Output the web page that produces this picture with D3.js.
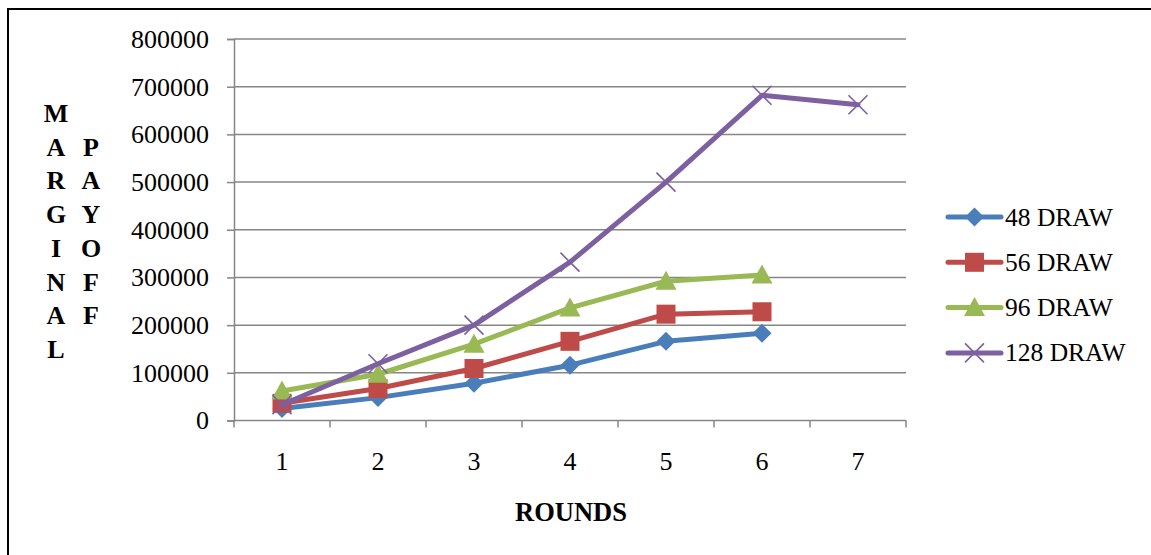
<!DOCTYPE html>
<html>
<head>
<meta charset="utf-8">
<script src="https://cdn.jsdelivr.net/npm/d3@7"></script>
<style>
  html, body { margin: 0; padding: 0; background: #fff; }
  svg text { font-family: "Liberation Serif", "Times New Roman", serif; fill: #000; }
</style>
</head>
<body>
<svg id="chart" width="1151" height="555"></svg>
<script>
// Marginal payoff per round for each draw size
const rounds = ["1", "2", "3", "4", "5", "6", "7"];
const draw48 = [25000, 48000, 78000, 116000, 166000, 183000];
const draw56 = [36000, 67000, 109000, 166000, 223000, 228000];
const draw96 = [62000, 97000, 160000, 236000, 292000, 305000];
const draw128 = [33000, 119000, 200000, 332000, 500000, 682000, 662000];
const yTicks = [0, 100000, 200000, 300000, 400000, 500000, 600000, 700000, 800000];
const seriesNames = ["48 DRAW", "56 DRAW", "96 DRAW", "128 DRAW"];
const yTitleLeft = "MARGINAL";
const yTitleRight = "PAYOFF";
const xTitle = "ROUNDS";

const series = [
  { name: seriesNames[0], values: draw48, color: "#4A7EBB", marker: "diamond" },
  { name: seriesNames[1], values: draw56, color: "#BE4B48", marker: "square" },
  { name: seriesNames[2], values: draw96, color: "#98B954", marker: "triangle" },
  { name: seriesNames[3], values: draw128, color: "#7D60A0", marker: "cross" }
];

const svg = d3.select("#chart");

// outer frame (its right and bottom edges fall outside the view)
svg.append("rect")
  .attr("x", 8).attr("y", 9)
  .attr("width", 1200).attr("height", 600)
  .attr("fill", "none").attr("stroke", "#000").attr("stroke-width", 2);

const plot = { left: 234, right: 906, top: 39, bottom: 420.5 };

const x = d3.scaleBand().domain(rounds).range([plot.left, plot.right]);
const y = d3.scaleLinear().domain([0, 800000]).range([plot.bottom, plot.top]);

const gridColor = "#868686";

// horizontal gridlines
svg.append("g").selectAll("line").data(yTicks.filter(t => t > 0)).join("line")
  .attr("x1", plot.left).attr("x2", plot.right)
  .attr("y1", d => y(d)).attr("y2", d => y(d))
  .attr("stroke", gridColor).attr("stroke-width", 1.5);

// y axis
const yAxis = svg.append("g")
  .attr("transform", `translate(${plot.left},0)`)
  .call(d3.axisLeft(y).tickValues(yTicks).tickFormat(d3.format("d")).tickSize(7).tickPadding(18));
yAxis.select(".domain").attr("stroke", gridColor).attr("stroke-width", 1.5);
yAxis.selectAll(".tick line").attr("stroke", gridColor).attr("stroke-width", 1.5);
yAxis.selectAll(".tick text")
  .style("font-family", "'Liberation Serif', serif").style("font-size", "26px").attr("fill", "#000");

// x axis with ticks at band boundaries
const xAxisG = svg.append("g").attr("transform", `translate(0,${plot.bottom})`);
xAxisG.append("line")
  .attr("x1", plot.left).attr("x2", plot.right)
  .attr("stroke", gridColor).attr("stroke-width", 1.5);
const boundaries = rounds.map(r => x(r)).concat([x(rounds[rounds.length - 1]) + x.bandwidth()]);
xAxisG.selectAll("line.tk").data(boundaries).join("line").attr("class", "tk")
  .attr("x1", d => d).attr("x2", d => d).attr("y1", 0).attr("y2", 7)
  .attr("stroke", gridColor).attr("stroke-width", 1.5);
xAxisG.selectAll("text").data(rounds).join("text")
  .attr("x", d => x(d) + x.bandwidth() / 2)
  .attr("y", 49)
  .attr("text-anchor", "middle")
  .style("font-size", "26px")
  .text(d => d);

// axis titles
svg.append("text")
  .attr("x", 571).attr("y", 521)
  .attr("text-anchor", "middle")
  .style("font-size", "26.5px").style("font-weight", "bold")
  .text(xTitle);

const rowH = 33.7;
yTitleLeft.split("").forEach((ch, i) => {
  svg.append("text")
    .attr("x", 56).attr("y", 122 + i * rowH)
    .attr("text-anchor", "middle")
    .style("font-size", "26px").style("font-weight", "bold")
    .text(ch);
});
yTitleRight.split("").forEach((ch, i) => {
  svg.append("text")
    .attr("x", 91).attr("y", 122 + (i + 1) * rowH)
    .attr("text-anchor", "middle")
    .style("font-size", "26px").style("font-weight", "bold")
    .text(ch);
});

// marker shapes
const markerSize = 9.5;
function drawMarker(g, type, color, cx, cy) {
  const s = markerSize;
  if (type === "diamond") {
    g.append("path")
      .attr("d", `M${cx},${cy - s} L${cx + s},${cy} L${cx},${cy + s} L${cx - s},${cy} Z`)
      .attr("fill", color);
  } else if (type === "square") {
    g.append("rect")
      .attr("x", cx - s).attr("y", cy - s).attr("width", 2 * s).attr("height", 2 * s)
      .attr("fill", color);
  } else if (type === "triangle") {
    g.append("path")
      .attr("d", `M${cx},${cy - s - 1} L${cx + s + 1},${cy + s - 1} L${cx - s - 1},${cy + s - 1} Z`)
      .attr("fill", color);
  } else {
    g.append("path")
      .attr("d", `M${cx - s},${cy - s} L${cx + s},${cy + s} M${cx - s},${cy + s} L${cx + s},${cy - s}`)
      .attr("stroke", color).attr("stroke-width", 1.6).attr("fill", "none");
  }
}

const line = d3.line()
  .x((d, i) => x(rounds[i]) + x.bandwidth() / 2)
  .y(d => y(d));

series.forEach(s => {
  const g = svg.append("g");
  g.append("path")
    .datum(s.values)
    .attr("d", line)
    .attr("fill", "none")
    .attr("stroke", s.color)
    .attr("stroke-width", 5)
    .attr("stroke-linejoin", "round")
    .attr("stroke-linecap", "round");
  s.values.forEach((v, i) => {
    drawMarker(g, s.marker, s.color, x(rounds[i]) + x.bandwidth() / 2, y(v));
  });
});

// legend
const legend = svg.append("g");
series.forEach((s, i) => {
  const cy = 217 + i * 45.3;
  const g = legend.append("g");
  g.append("line")
    .attr("x1", 948).attr("x2", 1001).attr("y1", cy).attr("y2", cy)
    .attr("stroke", s.color).attr("stroke-width", 5).attr("stroke-linecap", "round");
  drawMarker(g, s.marker, s.color, 974.5, cy);
  g.append("text")
    .attr("x", 1005).attr("y", cy + 8.5)
    .style("font-size", "25.5px")
    .text(s.name);
});
</script>
</body>
</html>
